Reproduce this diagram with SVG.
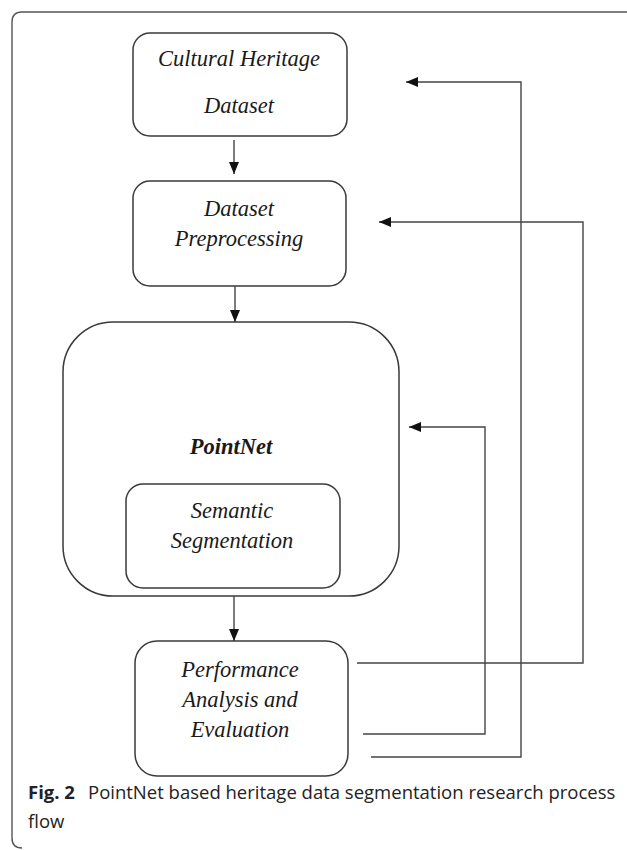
<svg xmlns="http://www.w3.org/2000/svg" width="627" height="850" viewBox="0 0 627 850">
<style>
.box{fill:#fff;stroke:#3a3a3a;stroke-width:1.5}
.lbl{font-family:"Liberation Serif","Times New Roman",serif;font-style:italic;font-size:22.5px;fill:#1a1a1a;text-anchor:middle}
.bold{font-weight:bold}
.ln{fill:none;stroke:#444;stroke-width:1.4}
.cap{font-family:"Open Sans","Noto Sans",sans-serif;font-size:18.5px;fill:#222}
</style>
<defs>
<marker id="ah" viewBox="0 0 12 12" refX="12" refY="6" markerWidth="12" markerHeight="12" markerUnits="userSpaceOnUse" orient="auto">
<path d="M0,1 L12,6 L0,11 Z" fill="#111"/>
</marker>
</defs>
<path d="M627,12 H22 Q12,12 12,22 V838 Q12,848 22,848" fill="none" stroke="#555" stroke-width="1.4"/>
<g id="n1">
<rect class="box" x="133" y="33" width="214" height="103" rx="17"/>
<text class="lbl" x="239" y="66">Cultural Heritage</text>
<text class="lbl" x="239" y="113">Dataset</text>
</g>
<g id="n2">
<rect class="box" x="133" y="181" width="213" height="105" rx="17"/>
<text class="lbl" x="239" y="216">Dataset</text>
<text class="lbl" x="239" y="246">Preprocessing</text>
</g>
<g id="n3">
<rect class="box" x="63" y="322" width="336" height="274" rx="50"/>
<text class="lbl bold" x="231" y="454">PointNet</text>
</g>
<g id="n4">
<rect class="box" x="126" y="484" width="214" height="104" rx="17"/>
<text class="lbl" x="232" y="518">Semantic</text>
<text class="lbl" x="232" y="548">Segmentation</text>
</g>
<g id="n5">
<rect class="box" x="135" y="641" width="213" height="135" rx="22"/>
<text class="lbl" x="240" y="677">Performance</text>
<text class="lbl" x="240" y="707">Analysis and</text>
<text class="lbl" x="240" y="737">Evaluation</text>
</g>
<g id="connectors">
<line class="ln" x1="234" y1="140" x2="234" y2="174" marker-end="url(#ah)"/>
<line class="ln" x1="235" y1="286" x2="235" y2="322" marker-end="url(#ah)"/>
<line class="ln" x1="234" y1="596" x2="234" y2="641" marker-end="url(#ah)"/>
<polyline class="ln" points="371,757 521,757 521,82 406,82" marker-end="url(#ah)"/>
<polyline class="ln" points="357,663 583,663 583,222 379,222" marker-end="url(#ah)"/>
<polyline class="ln" points="363,734 485,734 485,427 409,427" marker-end="url(#ah)"/>
</g>
<text class="cap" x="28" y="799"><tspan font-weight="bold">Fig. 2</tspan><tspan x="88">PointNet based heritage data segmentation research process</tspan></text>
<text class="cap" x="28" y="828">flow</text>
</svg>
